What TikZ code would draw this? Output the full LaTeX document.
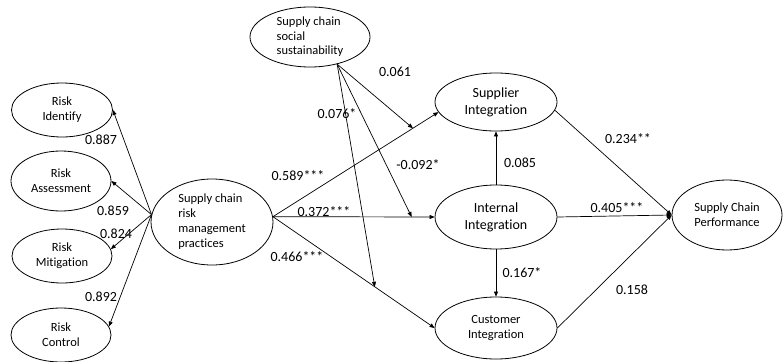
\documentclass[tikz,border=0pt]{standalone}
\usepackage{fontspec}
\setmainfont{Carlito}[Ligatures={NoCommon,NoRequired,NoContextual,NoRare}]
\usetikzlibrary{shapes.geometric,arrows.meta}
\begin{document}
\begin{tikzpicture}[x=1pt,y=-1pt,
  ell/.style={draw,ellipse,inner sep=0pt,line width=0.8pt},
  small/.style={font=\fontsize{12.5}{15}\selectfont},
  big/.style={font=\fontsize{14}{17}\selectfont},
  arr/.style={-{Triangle[length=5pt,width=4pt]},line width=0.7pt},
  lab/.style={font=\fontsize{14}{16}\selectfont,inner sep=0pt}]
\useasboundingbox (0,0) rectangle (783,361);

% constructs
\node[ell,small,align=center,minimum width=101pt,minimum height=54pt] (ri) at (62,110) {Risk\\Identify};
\node[ell,small,align=center,minimum width=100pt,minimum height=60pt] (ra) at (61,181) {Risk\\Assessment};
\node[ell,small,align=center,minimum width=100pt,minimum height=54pt] (rm) at (62,256) {Risk\\Mitigation};
\node[ell,small,align=center,minimum width=100pt,minimum height=54pt] (rc) at (61,335) {Risk\\Control};
\node[ell,small,align=left,minimum width=122pt,minimum height=86pt] (scrmp) at (212,222) {Supply chain\\risk\\management\\practices};
\node[ell,font=\fontsize{12.5}{14.5}\selectfont,align=left,minimum width=120pt,minimum height=60pt] (soc) at (310,37) {Supply chain\\social\\sustainability};
\node[ell,big,align=center,minimum width=122pt,minimum height=58pt] (si) at (496,102) {Supplier\\Integration};
\node[ell,big,align=center,minimum width=122pt,minimum height=64pt] (ii) at (496,217) {Internal\\Integration};
\node[ell,small,align=center,minimum width=122pt,minimum height=62pt] (ci) at (496,328) {Customer\\Integration};
\node[ell,small,align=center,minimum width=110pt,minimum height=70pt] (scp) at (727,215) {Supply Chain\\Performance};

% measurement arrows
\draw[arr] (scrmp.173) -- (ri.east);
\draw[arr] (scrmp.173) -- (ra.east);
\draw[arr] (scrmp.173) -- (rm.8);
\draw[arr] (scrmp.173) -- (rc.10);

% structural paths
\draw[arr] (scrmp.5) -- (si.190) coordinate[pos=0.846] (m1);
\draw[arr] (scrmp.5) -- (ii.west) coordinate[pos=0.858] (m2);
\draw[arr] (scrmp.5) -- (ci.west) coordinate[pos=0.63] (m3);
\draw[arr] (soc.-45) -- (m1);
\draw[arr] (soc.-45) -- (m2);
\draw[arr] (soc.-45) -- (m3);
\draw[arr] (ii.north) -- (si.south);
\draw[arr] (ii.south) -- (ci.north);
\draw[arr] (si.-8) -- (scp.west);
\draw[arr] (ii.east) -- (scp.west);
\draw[arr] (ci.east) -- (scp.west);

% labels
\node[lab] (l1) at (101,140) {0.887};
\node[lab] (l2) at (113,211) {0.859};
\node[lab] (l3) at (116,234) {0.824};
\node[lab] (l4) at (101,297) {0.892};
\node[lab] (l5) at (395,72) {0.061};
\node[lab] (l6) at (337,114) {0.076*};
\node[lab] (l7) at (418,165) {-0.092*};
\node[lab] (l8) at (298,176) {0.589***};
\node[lab] (l9) at (324,212) {0.372***};
\node[lab] (l10) at (297,257) {0.466***};
\node[lab] (l11) at (628,139) {0.234**};
\node[lab] (l12) at (520,163) {0.085};
\node[lab] (l13) at (617,208) {0.405***};
\node[lab] (l14) at (522,273) {0.167*};
\node[lab] (l15) at (632,290) {0.158};
\end{tikzpicture}
\end{document}
